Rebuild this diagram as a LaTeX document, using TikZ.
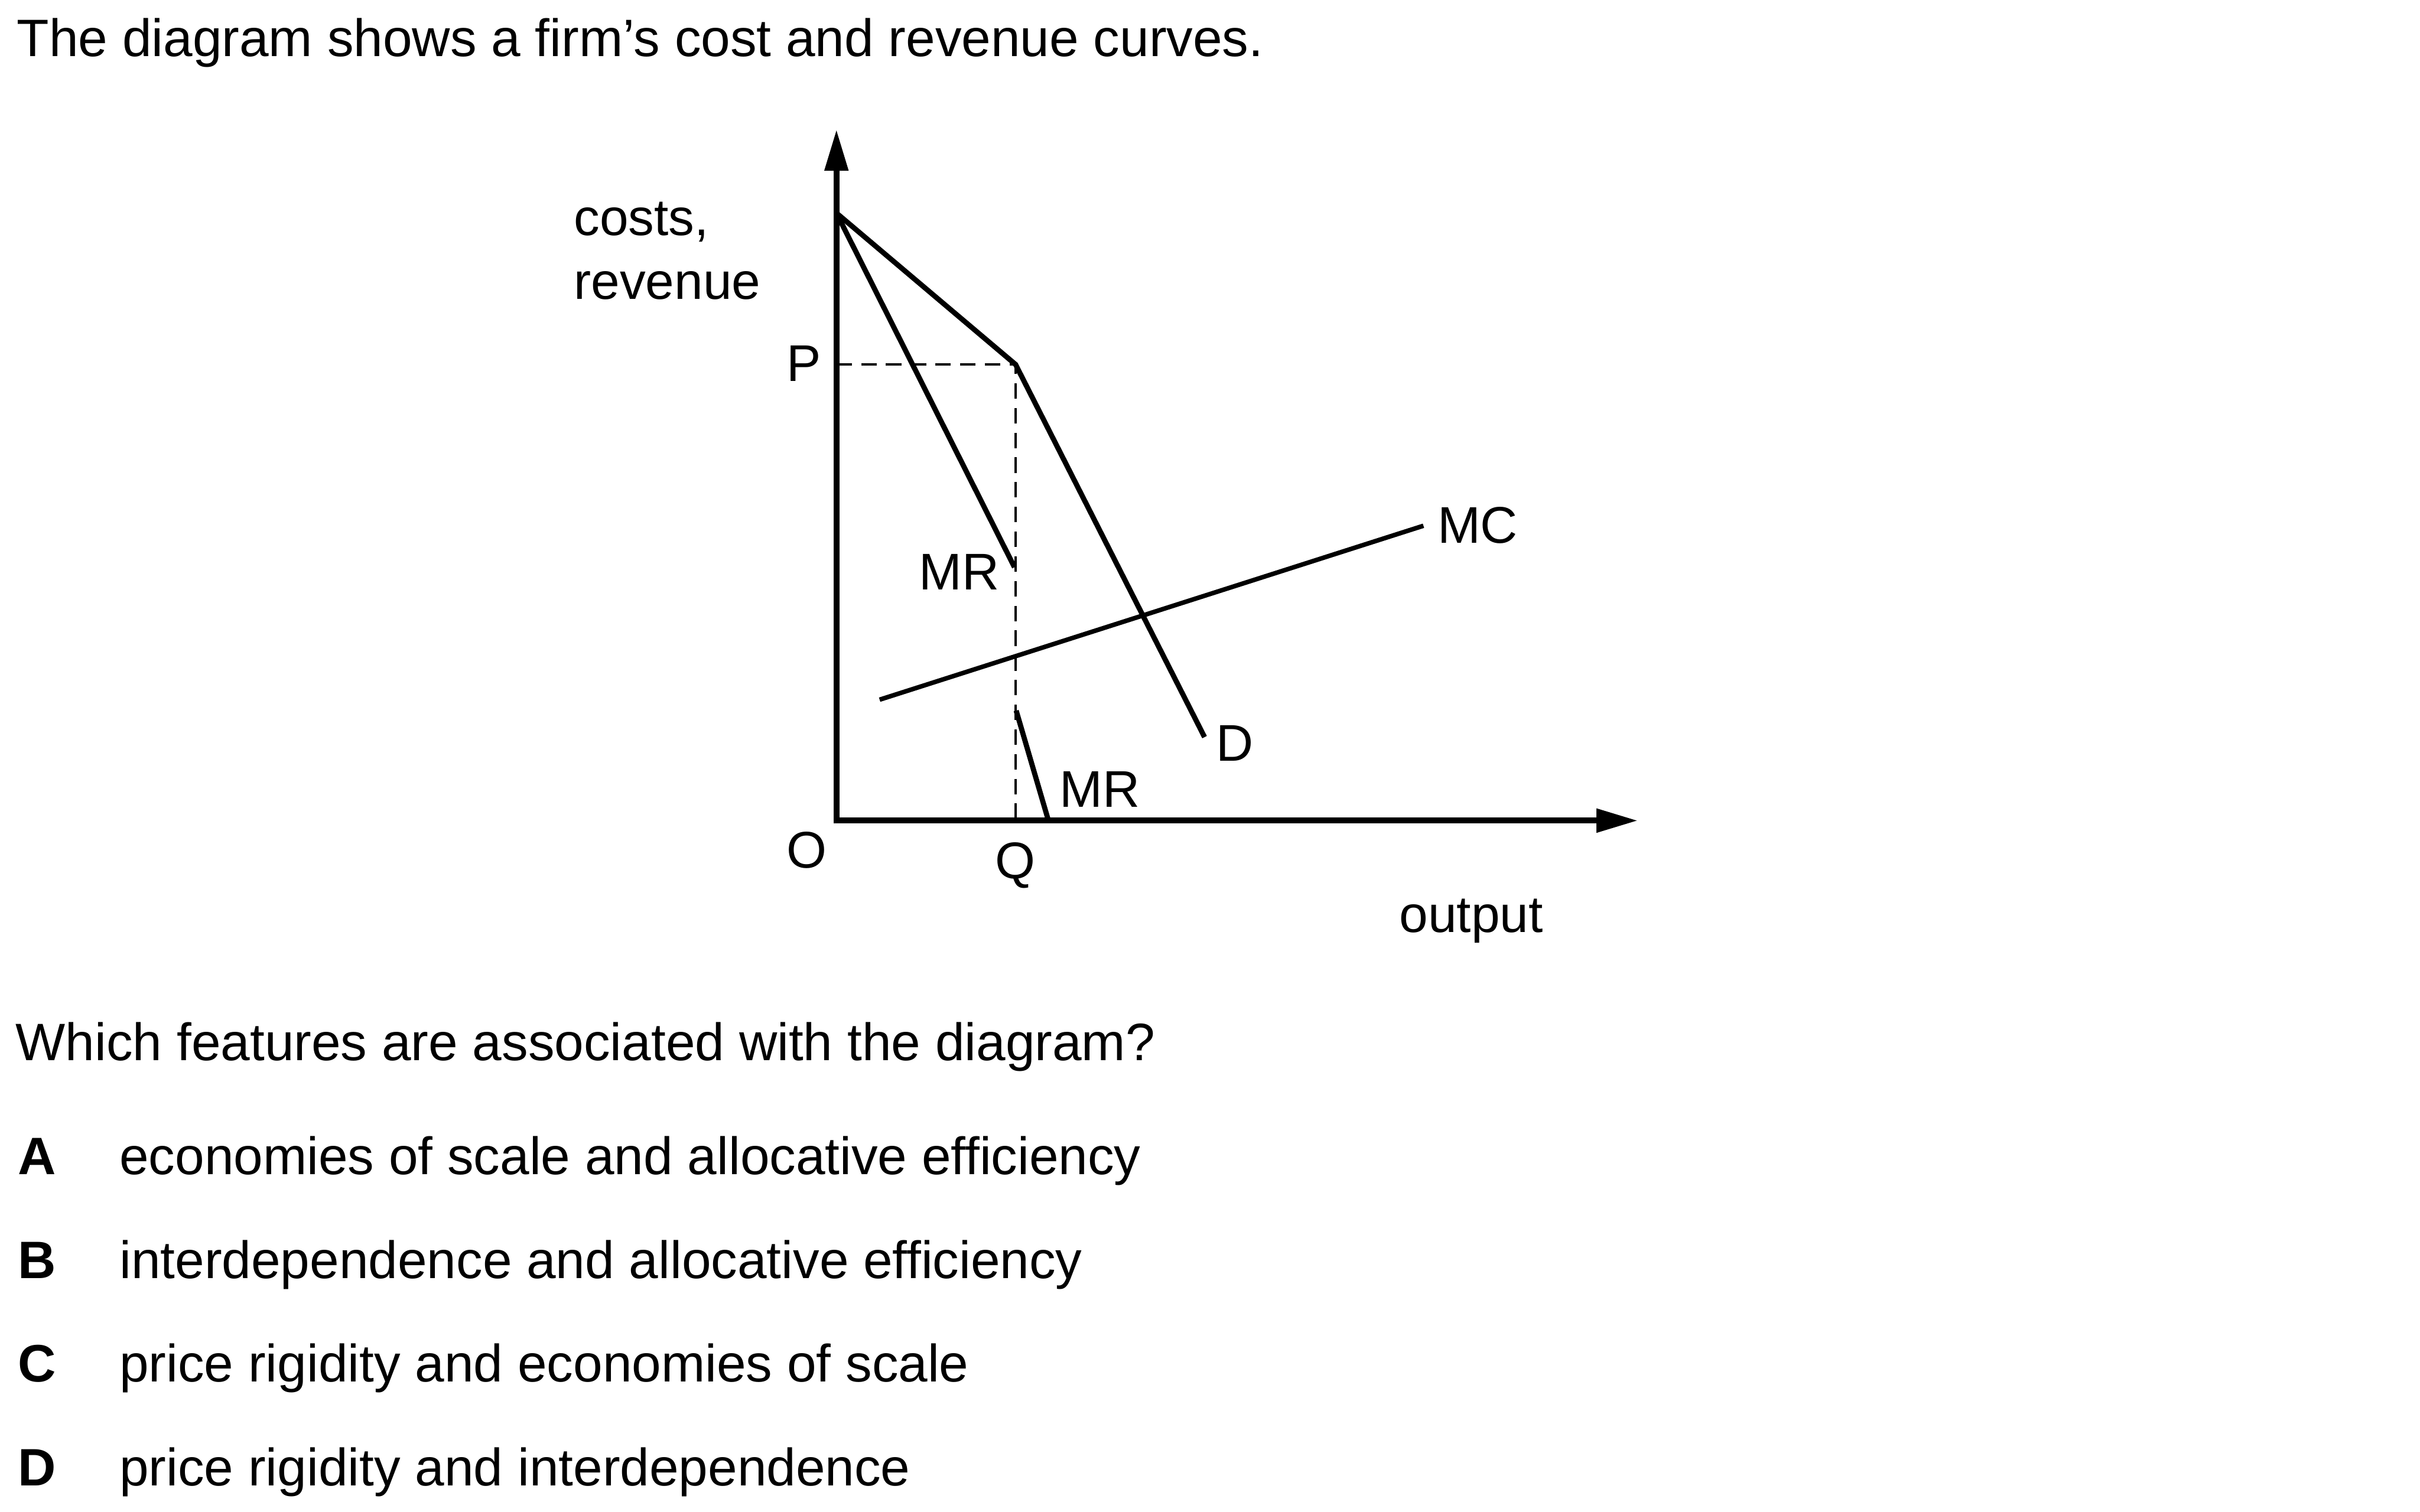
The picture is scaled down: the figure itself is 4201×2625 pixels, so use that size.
\documentclass[tikz,border=0pt]{standalone}
\usepackage{fontspec}
\setmainfont{Liberation Sans}
\usetikzlibrary{arrows.meta}
\begin{document}
\begin{tikzpicture}[x=0.13393pt,y=-0.13393pt,
  lbl/.style={inner sep=0pt,font=\fontsize{12}{14}\selectfont},
  qtext/.style={inner sep=0pt,anchor=base west,font=\fontsize{12.25}{14}\selectfont},
  axis/.style={line width=1.35pt,{Triangle[length=9.6pt,width=5.3pt]}-{Triangle[length=9.6pt,width=5.3pt]}},
  curve/.style={line width=1.2pt},
  guide/.style={line width=.63pt,dash pattern=on 3.6pt off 2.15pt}]
\useasboundingbox (0,0) rectangle (4201,2625);
% question text
\node[qtext] (head) at (28,98) {The diagram shows a firm’s cost and revenue curves.};
\node[qtext] (ask) at (26,1842) {Which features are associated with the diagram?};
\foreach \k/\t/\y in {A/economies of scale and allocative efficiency/2039,B/interdependence and allocative efficiency/2220,C/price rigidity and economies of scale/2399,D/price rigidity and interdependence/2580}{
\node[qtext,font=\fontsize{12.25}{14}\selectfont\bfseries] (key\k) at (30,\y) {\k};
\node[qtext] (opt\k) at (206,\y) {\t};}
% axes
\coordinate (O) at (1452,1425);\coordinate (ytip) at (1452,225);\coordinate (xtip) at (2843,1425);
\draw[axis] (ytip)--(O)--(xtip);
\coordinate (top) at (1452,370);\coordinate (kink) at (1763,633);\coordinate (Dend) at (2091,1280);
\coordinate (Pk) at (1452,633);\coordinate (Qk) at (1763,1425);
\coordinate (MRa) at (1761,985);\coordinate (MRb) at (1764,1234);\coordinate (MRc) at (1820,1425);
\coordinate (MCa) at (1527,1215);\coordinate (MCb) at (2471,913);
\draw[guide] (Pk)--(kink)--(Qk);
\draw[curve] (top)--(kink)--(Dend);
\draw[curve] (top)--(MRa);\draw[curve] (MRb)--(MRc);
\draw[curve,line width=1.05pt] (MCa)--(MCb);
% labels
\node[lbl,anchor=base west] (costs) at (995,409) {costs,};
\node[lbl,anchor=base west] (rev) at (995,520) {revenue};
\node[lbl,anchor=base] (labP) at (1396,662) {P};
\node[lbl,anchor=base] (labO) at (1400,1507) {O};
\node[lbl,anchor=base] (labQ) at (1763,1526) {Q};
\node[lbl,anchor=base] (labMR1) at (1665,1024) {MR};
\node[lbl,anchor=base] (labMR2) at (1909,1402) {MR};
\node[lbl,anchor=base] (labD) at (2144,1322) {D};
\node[lbl,anchor=base] (labMC) at (2565,943) {MC};
\node[lbl,anchor=base] (labout) at (2554,1619) {output};
\end{tikzpicture}
\end{document}
